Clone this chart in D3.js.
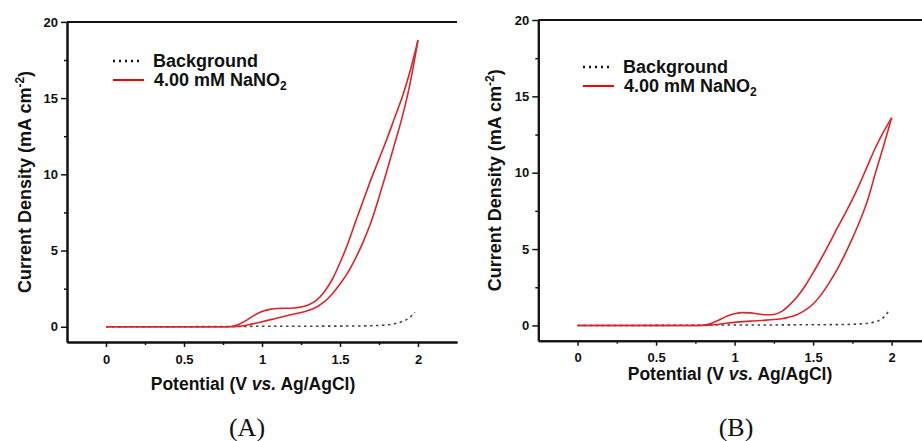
<!DOCTYPE html>
<html>
<head>
    <meta charset="utf-8">
    <script type="text/javascript" src="https://d3js.org/d3.v7.min.js"></script>
    <style>
        body {
            background: #ffffff;
            margin: 0;
            padding: 0;
        }
        svg text {
            font-family: "Liberation Sans", Arial, sans-serif;
            font-weight: bold;
            fill: #111;
        }
        .axis path, .axis line {
            stroke: #111;
        }
        .axis path {
            stroke-width: 2;
        }
        .axis line {
            stroke-width: 1.5;
        }
        .cv {
            fill: none;
            stroke: #d9262b;
            stroke-width: 1.6;
        }
        .bg {
            fill: none;
            stroke: #444;
            stroke-width: 1.6;
            stroke-dasharray: 2.5,3.5;
        }
        .panel_label {
            font-family: "Liberation Serif", "Times New Roman", serif !important;
            font-weight: normal !important;
        }
    </style>
</head>
<body>
    <div id="chart"></div>

    <script>
        // tick values shared by both panels
        var potTicks = [0, 0.5, 1, 1.5, 2];
        var potMinor = [0.25, 0.75, 1.25, 1.75];
        var cdTicks = [0, 5, 10, 15, 20];
        var cdMinor = [2.5, 7.5, 12.5, 17.5];

        // Panel (A) - [potential V, current density mA cm-2]
        var aForward = [[0, 0], [0.4, 0], [0.8, 0], [0.9, 0.1], [1.0, 0.33], [1.1, 0.58], [1.2, 0.82], [1.3, 1.08],
            [1.35, 1.3], [1.4, 1.65], [1.45, 2.15], [1.5, 2.8], [1.55, 3.55], [1.6, 4.5], [1.65, 5.6], [1.7, 6.9],
            [1.75, 8.5], [1.8, 10.2], [1.85, 12.0], [1.9, 13.8], [1.95, 16.0], [2.0, 18.8]];
        var aReverse = [[0, 0], [0.4, 0], [0.78, 0], [0.85, 0.15], [0.9, 0.42], [0.95, 0.75], [1.0, 1.0], [1.05, 1.14],
            [1.1, 1.2], [1.15, 1.21], [1.2, 1.23], [1.25, 1.3], [1.3, 1.45], [1.35, 1.75], [1.4, 2.3], [1.45, 3.1],
            [1.5, 4.2], [1.55, 5.45], [1.6, 6.9], [1.65, 8.3], [1.7, 9.7], [1.75, 11.0], [1.8, 12.3], [1.85, 13.7],
            [1.9, 15.1], [1.95, 16.8], [2.0, 18.8]];
        var aBackground = [[0, 0], [0.4, 0], [0.8, 0.02], [1.0, 0.03], [1.2, 0.03], [1.4, 0.04], [1.6, 0.05], [1.7, 0.07],
            [1.8, 0.12], [1.85, 0.2], [1.9, 0.35], [1.94, 0.55], [1.98, 0.95]];

        // Panel (B)
        var bForward = [[0, 0], [0.4, 0], [0.8, 0], [0.9, 0.08], [1.0, 0.2], [1.1, 0.28], [1.2, 0.35], [1.3, 0.44],
            [1.35, 0.55], [1.4, 0.72], [1.45, 1.0], [1.5, 1.4], [1.55, 2.0], [1.6, 2.75], [1.65, 3.6], [1.7, 4.6],
            [1.75, 5.7], [1.8, 6.9], [1.85, 8.3], [1.9, 10.1], [1.95, 11.8], [2.0, 13.6]];
        var bReverse = [[0, 0], [0.4, 0], [0.78, 0], [0.85, 0.12], [0.9, 0.35], [0.95, 0.6], [1.0, 0.77], [1.05, 0.84],
            [1.1, 0.82], [1.15, 0.75], [1.2, 0.7], [1.25, 0.72], [1.3, 0.92], [1.35, 1.35], [1.4, 1.9], [1.45, 2.6],
            [1.5, 3.45], [1.55, 4.35], [1.6, 5.3], [1.65, 6.3], [1.7, 7.25], [1.75, 8.25], [1.8, 9.35], [1.85, 10.55],
            [1.9, 11.7], [1.95, 12.7], [2.0, 13.6]];
        var bBackground = [[0, 0], [0.4, 0], [0.8, 0.02], [1.0, 0.03], [1.2, 0.03], [1.4, 0.04], [1.6, 0.05], [1.7, 0.06],
            [1.8, 0.1], [1.88, 0.2], [1.94, 0.45], [1.98, 0.92]];

        var width = 922, height = 441;

        var svg = d3.select("#chart")
            .append("svg")
            .attr("width", width)
            .attr("height", height);

        // draws one CV panel
        function drawPanel(p) {
            var x = d3.scaleLinear().domain([-0.25, 2.25]).range([p.left, p.right]);
            var y = d3.scaleLinear().domain([-1, 20]).range([p.bottom, p.top]);
            var g = svg.append("g");

            var line = d3.line()
                .x(function(d) { return x(d[0]); })
                .y(function(d) { return y(d[1]); })
                .curve(d3.curveMonotoneX);

            g.append("path").datum(p.background).attr("class", "bg").attr("d", line);
            g.append("path").datum(p.forward).attr("class", "cv").attr("d", line);
            g.append("path").datum(p.reverse).attr("class", "cv").attr("d", line);

            // axes
            g.append("g").attr("class", "axis")
                .attr("transform", "translate(0," + p.bottom + ")")
                .call(d3.axisBottom(x).tickValues(potTicks).tickSize(5).tickSizeOuter(0).tickPadding(p.xPad)
                    .tickFormat(d3.format("")))
                .selectAll("text").style("font-size", "13px");
            g.append("g").attr("class", "axis")
                .attr("transform", "translate(0," + p.bottom + ")")
                .call(d3.axisBottom(x).tickValues(potMinor).tickSize(3).tickSizeOuter(0).tickFormat(""));
            g.append("g").attr("class", "axis")
                .attr("transform", "translate(" + p.left + ",0)")
                .call(d3.axisLeft(y).tickValues(cdTicks).tickSize(6).tickSizeOuter(0).tickPadding(3))
                .selectAll("text").style("font-size", "13px");
            g.append("g").attr("class", "axis")
                .attr("transform", "translate(" + p.left + ",0)")
                .call(d3.axisLeft(y).tickValues(cdMinor).tickSize(3).tickSizeOuter(0).tickFormat(""));

            // top frame line
            g.append("line")
                .attr("x1", p.left).attr("x2", p.right)
                .attr("y1", y(20)).attr("y2", y(20))
                .attr("stroke", "#111").attr("stroke-width", 2);

            // axis titles
            var xt = g.append("text")
                .attr("x", p.xTitleX).attr("y", p.xTitleY)
                .attr("text-anchor", "middle")
                .style("font-size", "17.5px");
            xt.append("tspan").text("Potential (V ");
            xt.append("tspan").style("font-style", "italic").text("vs.");
            xt.append("tspan").text(" Ag/AgCl)");

            var yt = g.append("text")
                .attr("transform", "translate(" + p.yTitleX + "," + ((p.top + p.bottom) / 2) + ") rotate(-90)")
                .attr("text-anchor", "middle")
                .style("font-size", "18px");
            yt.append("tspan").text("Current Density (mA cm");
            yt.append("tspan").attr("dy", "-7").style("font-size", "12px").text("-2");
            yt.append("tspan").attr("dy", "7").text(")");

            // legend
            g.append("line")
                .attr("x1", p.legX).attr("x2", p.legX + 30)
                .attr("y1", p.legY).attr("y2", p.legY)
                .attr("stroke", "#111").attr("stroke-width", 2.5)
                .attr("stroke-dasharray", "2,4");
            g.append("text")
                .attr("x", p.legX + 40).attr("y", p.legY + 6)
                .style("font-size", "18px")
                .text("Background");
            g.append("line")
                .attr("x1", p.legX).attr("x2", p.legX + 31)
                .attr("y1", p.legY + 19).attr("y2", p.legY + 19)
                .attr("stroke", "#ff0000").attr("stroke-width", 2);
            var lt = g.append("text")
                .attr("x", p.legX + 41).attr("y", p.legY + 25)
                .style("font-size", "18px");
            lt.append("tspan").text("4.00 mM NaNO");
            lt.append("tspan").attr("dy", "4").style("font-size", "12px").text("2");

            // panel letter
            g.append("text")
                .attr("class", "panel_label")
                .attr("x", p.labelX).attr("y", 436)
                .attr("text-anchor", "middle")
                .style("font-size", "26px")
                .text(p.label);
        }

        drawPanel({
            left: 67, right: 457, top: 21.9, bottom: 342,
            forward: aForward, reverse: aReverse, background: aBackground,
            xPad: 8, xTitleX: 253, xTitleY: 390, yTitleX: 31,
            legX: 113, legY: 61, labelX: 247, label: "(A)"
        });

        drawPanel({
            left: 538.3, right: 930.9, top: 20, bottom: 340.7,
            forward: bForward, reverse: bReverse, background: bBackground,
            xPad: 7, xTitleX: 730, xTitleY: 380, yTitleX: 501,
            legX: 583, legY: 67, labelX: 736, label: "(B)"
        });
    </script>
</body>
</html>
